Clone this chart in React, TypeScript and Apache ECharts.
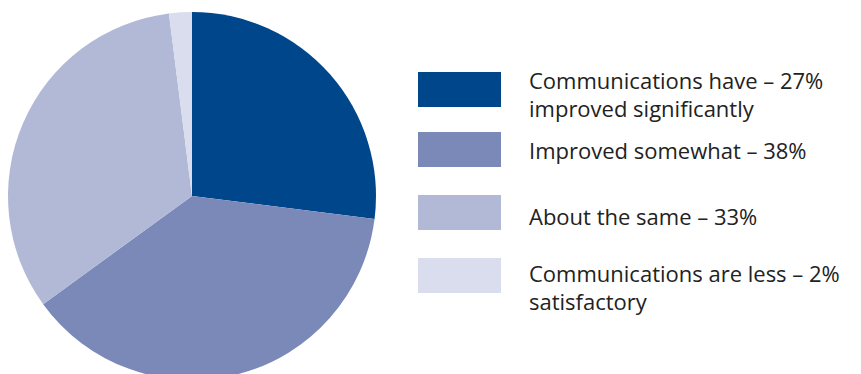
import React, { useEffect, useRef } from "react";
import * as echarts from "echarts";

const categories = [
  "Communications have\nimproved significantly",
  "Improved somewhat",
  "About the same",
  "Communications are less\nsatisfactory",
];
const percentLabels = ["27%", "38%", "33%", "2%"];
const values = [27, 38, 33, 2];
const colors = ["#00468b", "#7b89b9", "#b1b9d7", "#d9dded"];

export default function App() {
  const ref = useRef<HTMLDivElement>(null);
  useEffect(() => {
    document.body.style.margin = "0";
    const chart = echarts.init(ref.current!, null, { renderer: "svg" });
    const font = "'Open Sans', Arial, sans-serif";
    const lh = 28;
    const legendTops = [60.5, 132, 195, 246.5];
    const spacers = [8, 0, 6, 22];
    const legends = categories.map((name, i) => ({
      show: true,
      orient: "vertical",
      left: 418,
      top: legendTops[i],
      padding: 0,
      selectedMode: false,
      icon: "rect",
      itemWidth: 83,
      itemHeight: 35,
      itemStyle: { borderWidth: 0 },
      data: [name],
      formatter: (n: string) => {
        const idx = categories.indexOf(n);
        const lines = n.split("\n");
        lines[0] = lines[0] + " – " + percentLabels[idx];
        const body = lines.map((l) => "{a|" + l + "}").join("\n");
        return spacers[idx] > 0 ? "{s| }\n" + body : body;
      },
      textStyle: {
        fontFamily: font,
        fontSize: 22,
        color: "#222222",
        padding: [0, 0, 0, 23],
        rich: {
          a: { fontFamily: font, fontSize: 22, lineHeight: lh, color: "#222222" },
          s: { fontSize: 2, lineHeight: spacers[i] || 1 },
        },
      },
    }));
    chart.setOption({
      animation: false,
      legend: legends,
      series: [
        {
          type: "pie",
          center: [192, 196],
          radius: 184,
          startAngle: 90,
          clockwise: true,
          label: { show: false },
          labelLine: { show: false },
          emphasis: { disabled: true },
          itemStyle: { borderWidth: 0 },
          data: categories.map((name, i) => ({
            name,
            value: values[i],
            itemStyle: { color: colors[i] },
          })),
        },
      ],
    });
    return () => chart.dispose();
  }, []);
  return <div ref={ref} style={{ width: 861, height: 374 }} />;
}
